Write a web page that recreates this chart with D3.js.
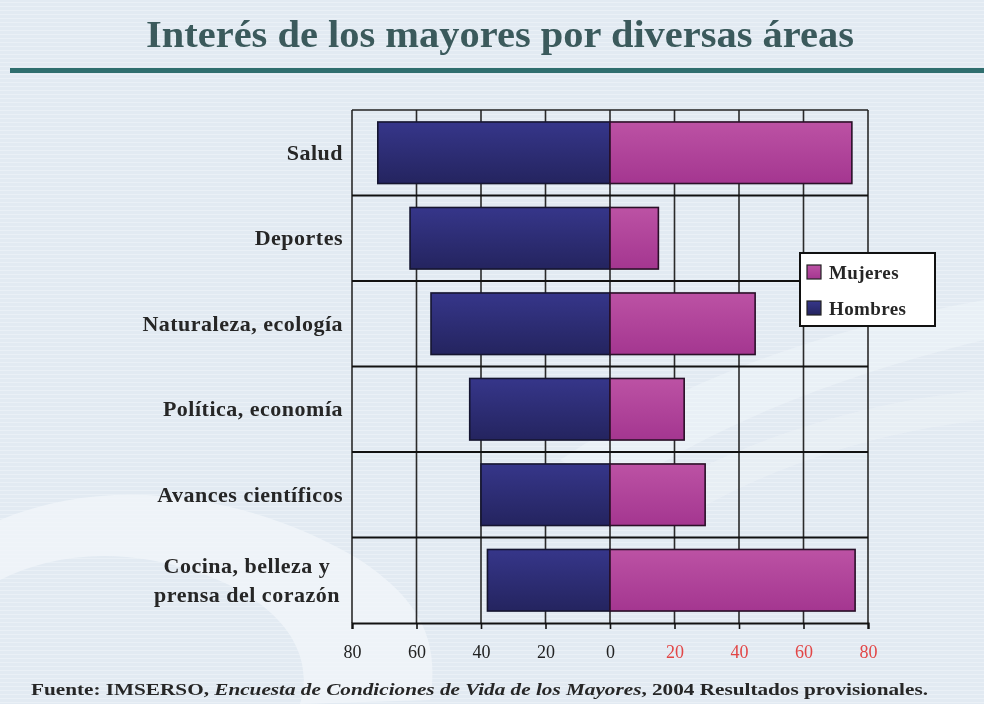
<!DOCTYPE html>
<html>
<head>
<meta charset="utf-8">
<script src="https://cdn.jsdelivr.net/npm/d3@7"></script>
<style>
  html, body { margin: 0; padding: 0; background: #e2eaf2; }
  svg { display: block; }
</style>
</head>
<body>
<svg id="chart" width="984" height="704"></svg>
<script>
// Interest of older people in various areas, by sex (%)
const categories = [
  "Salud",
  "Deportes",
  "Naturaleza, ecología",
  "Política, economía",
  "Avances científicos",
  "Cocina, belleza y prensa del corazón"
];
const categoryLines = [
  ["Salud"],
  ["Deportes"],
  ["Naturaleza, ecología"],
  ["Política, economía"],
  ["Avances científicos"],
  ["Cocina, belleza y", "prensa del corazón"]
];
const hombres = [72, 62, 55.5, 43.5, 40, 38];
const mujeres = [75, 15, 45, 23, 29.5, 76];
const tickValues = [-80, -60, -40, -20, 0, 20, 40, 60, 80];
const seriesNames = ["Mujeres", "Hombres"];

const W = 984, H = 704;
const serif = "'Liberation Serif', 'DejaVu Serif', serif";
const svg = d3.select("#chart");
const defs = svg.append("defs");

// background stripes
const pat = defs.append("pattern").attr("id", "stripes")
  .attr("width", 8).attr("height", 4).attr("patternUnits", "userSpaceOnUse");
pat.append("rect").attr("width", 8).attr("height", 4).attr("fill", "#e2eaf2");
pat.append("rect").attr("y", 2).attr("width", 8).attr("height", 1).attr("fill", "#eaf0f6");

const gH = defs.append("linearGradient").attr("id", "gradH").attr("x1", 0).attr("x2", 0).attr("y1", 0).attr("y2", 1);
gH.append("stop").attr("offset", "0%").attr("stop-color", "#36368a");
gH.append("stop").attr("offset", "100%").attr("stop-color", "#24245f");
const gM = defs.append("linearGradient").attr("id", "gradM").attr("x1", 0).attr("x2", 0).attr("y1", 0).attr("y2", 1);
gM.append("stop").attr("offset", "0%").attr("stop-color", "#bc52a4");
gM.append("stop").attr("offset", "100%").attr("stop-color", "#a43690");

svg.append("rect").attr("width", W).attr("height", H).attr("fill", "url(#stripes)");

// soft decorative swooshes
const deco = svg.append("g").attr("fill", "#f2f6fa").attr("opacity", 0.75);
deco.append("path").attr("d", "M0,520 C120,470 260,500 360,560 C420,600 440,640 430,700 L300,704 C320,640 260,580 150,560 C90,550 40,560 0,580 Z");
deco.append("path").attr("d", "M560,460 C680,380 820,330 984,300 L984,340 C860,370 720,420 620,490 Z").attr("opacity", 0.6);
deco.append("path").attr("d", "M640,500 C760,430 880,400 984,390 L984,420 C890,430 780,460 680,520 Z").attr("opacity", 0.5);

// title
svg.append("text")
  .attr("x", 500).attr("y", 47)
  .attr("text-anchor", "middle")
  .attr("font-family", serif)
  .attr("font-weight", "bold")
  .attr("font-size", 38)
  .attr("fill", "#3b5a5c")
  .attr("textLength", 708).attr("lengthAdjust", "spacingAndGlyphs")
  .text("Interés de los mayores por diversas áreas");

svg.append("rect").attr("x", 10).attr("y", 68).attr("width", W - 10).attr("height", 5).attr("fill", "#2f6e6e");

// scales
const x = d3.scaleLinear().domain([-80, 80]).range([352, 868]);
const y = d3.scaleBand().domain(categories).range([110, 623]).padding(0);
const barH = y.bandwidth() * 0.72;

const plot = svg.append("g");

// vertical gridlines
plot.selectAll("line.vgrid").data(tickValues).join("line")
  .attr("class", "vgrid")
  .attr("x1", d => x(d)).attr("x2", d => x(d))
  .attr("y1", 110).attr("y2", 623)
  .attr("stroke", "#2a2a2a").attr("stroke-width", 1.6);

// row separators
plot.selectAll("line.hgrid").data(categories.slice(1)).join("line")
  .attr("class", "hgrid")
  .attr("x1", 352).attr("x2", 868)
  .attr("y1", d => y(d)).attr("y2", d => y(d))
  .attr("stroke", "#111").attr("stroke-width", 2);
plot.append("line").attr("x1", 352).attr("x2", 868).attr("y1", 110).attr("y2", 110)
  .attr("stroke", "#222").attr("stroke-width", 1.6);

// bars
const rows = categories.map((c, i) => ({ c, h: hombres[i], m: mujeres[i] }));
plot.selectAll("rect.h").data(rows).join("rect")
  .attr("class", "h")
  .attr("x", d => x(-d.h)).attr("width", d => x(0) - x(-d.h))
  .attr("y", d => y(d.c) + (y.bandwidth() - barH) / 2).attr("height", barH)
  .attr("fill", "url(#gradH)").attr("stroke", "#151530").attr("stroke-width", 1.6);
plot.selectAll("rect.m").data(rows).join("rect")
  .attr("class", "m")
  .attr("x", x(0)).attr("width", d => x(d.m) - x(0))
  .attr("y", d => y(d.c) + (y.bandwidth() - barH) / 2).attr("height", barH)
  .attr("fill", "url(#gradM)").attr("stroke", "#2a1028").attr("stroke-width", 1.6);

// bottom axis
const axis = d3.axisBottom(x).tickValues(tickValues).tickSize(6).tickPadding(16)
  .tickFormat(d => Math.abs(d));
const ax = svg.append("g").attr("transform", "translate(0,623)").call(axis);
ax.select(".domain").attr("stroke", "#111").attr("stroke-width", 2.2);
ax.selectAll(".tick line").attr("stroke", "#111").attr("stroke-width", 1.6);
ax.selectAll(".tick text")
  .attr("font-family", serif)
  .attr("font-size", 18)
  .attr("fill", d => d > 0 ? "#e24646" : "#222");

// category labels
const lab = svg.append("g")
  .attr("font-family", serif)
  .attr("font-weight", "bold").attr("font-size", 22)
  .attr("letter-spacing", 0.5).attr("fill", "#262626");
categoryLines.forEach((lines, i) => {
  const cy = y(categories[i]) + y.bandwidth() / 2;
  const t = lab.append("text")
    .attr("text-anchor", lines.length > 1 ? "middle" : "end");
  const lx = lines.length > 1 ? 247 : 343;
  lines.forEach((ln, j) => {
    t.append("tspan").attr("x", lx)
      .attr("y", cy + 7 + (j - (lines.length - 1) / 2) * 29)
      .text(ln);
  });
});

// legend
const leg = svg.append("g").attr("transform", "translate(800,253)");
leg.append("rect").attr("width", 135).attr("height", 73)
  .attr("fill", "#ffffff").attr("stroke", "#111").attr("stroke-width", 2);
const legFill = ["url(#gradM)", "url(#gradH)"];
seriesNames.forEach((s, i) => {
  const g = leg.append("g").attr("transform", `translate(7,${12 + i * 36})`);
  g.append("rect").attr("width", 14).attr("height", 14)
    .attr("fill", legFill[i]).attr("stroke", "#222").attr("stroke-width", 1.2);
  g.append("text").attr("x", 22).attr("y", 14)
    .attr("font-family", serif)
    .attr("font-weight", "bold").attr("font-size", 19)
    .attr("letter-spacing", 0.4).attr("fill", "#262626")
    .text(s);
});

// source note
const src = svg.append("text").attr("x", 31).attr("y", 695)
  .attr("font-family", serif)
  .attr("font-weight", "bold").attr("font-size", 16).attr("fill", "#262626")
  .attr("textLength", 897).attr("lengthAdjust", "spacingAndGlyphs");
src.append("tspan").text("Fuente: IMSERSO, ");
src.append("tspan").attr("font-style", "italic").text("Encuesta de Condiciones de Vida de los Mayores");
src.append("tspan").text(", 2004 Resultados provisionales.");
</script>
</body>
</html>
